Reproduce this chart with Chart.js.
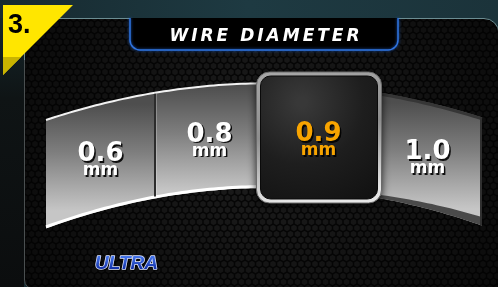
<!DOCTYPE html>
<html>
<head>
<meta charset="utf-8">
<script src="https://cdn.jsdelivr.net/npm/chart.js@4.4.1/dist/chart.umd.min.js"></script>
<style>
  html, body { margin: 0; padding: 0; background: #000; }
  canvas { display: block; }
</style>
</head>
<body>
<canvas id="wireChart" width="498" height="287"></canvas>
<script>
// Wire diameter dial data
const wireSizes = ['0.6', '0.8', '0.9', '1.0'];
const slotValues = [1, 1, 1, 1];   // every size takes one slot of the dial
const sizeUnit = 'mm';
const selectedSize = '0.9';
const stepLabel = '3.';
const titleText = 'WIRE DIAMETER';
const brandText = 'ULTRA';

// curved band geometry (drum seen in perspective)
const dialCenterX = 268;
function topEdge(x) { const d = x - dialCenterX; return 83.3 + 0.000744 * d * d; }
function bottomEdge(x) { const d = x - dialCenterX; return 188 + 0.00082 * d * d; }

function tracePath(ctx, fn, x0, x1) {
    const steps = 24;
    for (let s = 0; s <= steps; s++) {
        const x = x0 + (x1 - x0) * s / steps;
        if (s === 0) ctx.moveTo(x, fn(x)); else ctx.lineTo(x, fn(x));
    }
}

function segmentPath(ctx, x0, x1) {
    ctx.beginPath();
    tracePath(ctx, topEdge, x0, x1);
    const steps = 24;
    for (let s = steps; s >= 0; s--) {
        const x = x0 + (x1 - x0) * s / steps;
        ctx.lineTo(x, bottomEdge(x));
    }
    ctx.closePath();
}

// background, panel, badges and title
const panelPlugin = {
    id: 'panel',
    beforeDraw(chart) {
        const ctx = chart.ctx;
        const W = chart.width, H = chart.height;
        ctx.save();

        // outer backdrop
        let g = ctx.createLinearGradient(0, 0, W, 0);
        g.addColorStop(0, '#172a30');
        g.addColorStop(0.5, '#1e3a42');
        g.addColorStop(1, '#1b333a');
        ctx.fillStyle = g;
        ctx.fillRect(0, 0, W, H);
        g = ctx.createLinearGradient(0, 18, 0, H);
        g.addColorStop(0, '#15262b');
        g.addColorStop(0.3, '#0f1415');
        g.addColorStop(1, '#0b0d0e');
        ctx.fillStyle = g;
        ctx.fillRect(0, 18, 24, H - 18);

        // main panel
        ctx.beginPath();
        ctx.moveTo(24.5, 279);
        ctx.lineTo(24.5, 18.5);
        ctx.lineTo(484, 18.5);
        ctx.arcTo(499, 18.5, 499, 34, 15);
        ctx.lineTo(499, 289);
        ctx.lineTo(33, 289);
        ctx.arcTo(24.5, 289, 24.5, 279, 9);
        ctx.closePath();
        ctx.fillStyle = '#060606';
        ctx.fill();

        ctx.save();
        ctx.clip();
        // honeycomb mesh
        ctx.fillStyle = '#1a1a1a';
        const r = 3.2;
        for (let row = 0; row * 6 < H + 10; row++) {
            for (let col = 0; col * 7 < W + 10; col++) {
                const cx = col * 7 + (row % 2 ? 3.5 : 0);
                const cy = row * 6;
                ctx.beginPath();
                for (let k = 0; k < 6; k++) {
                    const a = Math.PI / 6 + k * Math.PI / 3;
                    const px = cx + r * Math.cos(a), py = cy + r * Math.sin(a);
                    if (k === 0) ctx.moveTo(px, py); else ctx.lineTo(px, py);
                }
                ctx.closePath();
                ctx.fill();
            }
        }
        g = ctx.createRadialGradient(265, 150, 40, 265, 150, 300);
        g.addColorStop(0, 'rgba(0,0,0,0)');
        g.addColorStop(1, 'rgba(0,0,0,0.65)');
        ctx.fillStyle = g;
        ctx.fillRect(0, 0, W, H);
        ctx.restore();

        // panel border
        ctx.beginPath();
        ctx.moveTo(24.5, 279);
        ctx.lineTo(24.5, 18.5);
        ctx.lineTo(484, 18.5);
        ctx.arcTo(499, 18.5, 499, 34, 15);
        ctx.strokeStyle = '#6b8d92';
        ctx.lineWidth = 1;
        ctx.stroke();
        ctx.beginPath();
        ctx.moveTo(24.5, 60);
        ctx.lineTo(24.5, 279);
        ctx.arcTo(24.5, 289, 33, 289, 9);
        ctx.strokeStyle = '#4a4f50';
        ctx.stroke();

        // step badge
        ctx.beginPath();
        ctx.moveTo(3, 5);
        ctx.lineTo(73, 5);
        ctx.lineTo(3, 75);
        ctx.closePath();
        ctx.fillStyle = '#ffe600';
        ctx.fill();
        ctx.save();
        ctx.clip();
        ctx.fillStyle = '#c9b300';
        ctx.fillRect(0, 57, 30, 30);
        ctx.restore();
        ctx.fillStyle = '#000';
        ctx.font = 'bold 27px "Liberation Sans"';
        ctx.textAlign = 'left';
        ctx.textBaseline = 'alphabetic';
        ctx.fillText(stepLabel, 8, 33);

        // title tab
        ctx.beginPath();
        ctx.moveTo(130, 18);
        ctx.lineTo(130, 40);
        ctx.arcTo(130, 50, 140, 50, 10);
        ctx.lineTo(388, 50);
        ctx.arcTo(398, 50, 398, 40, 10);
        ctx.lineTo(398, 18);
        ctx.fillStyle = '#000';
        ctx.fill();
        ctx.shadowColor = 'rgba(40,120,255,0.8)';
        ctx.shadowBlur = 3;
        ctx.strokeStyle = '#2f74e0';
        ctx.lineWidth = 1.5;
        ctx.stroke();
        ctx.shadowBlur = 0;
        ctx.shadowColor = 'rgba(0,0,0,0)';
        ctx.fillStyle = '#ffffff';
        ctx.font = 'italic bold 17px "DejaVu Sans"';
        ctx.letterSpacing = '3px';
        ctx.textAlign = 'center';
        ctx.fillText(titleText, 266, 41);
        ctx.letterSpacing = '0px';

        // brand
        ctx.font = 'italic bold 19px "Liberation Sans"';
        ctx.textAlign = 'left';
        ctx.lineJoin = 'round';
        ctx.shadowColor = 'rgba(0,0,0,0.9)';
        ctx.shadowOffsetX = 1;
        ctx.shadowOffsetY = 1;
        ctx.lineWidth = 1.5;
        ctx.strokeStyle = '#dfe6ff';
        ctx.strokeText(brandText, 95, 269);
        ctx.shadowColor = 'rgba(0,0,0,0)';
        g = ctx.createLinearGradient(0, 255, 0, 269);
        g.addColorStop(0, '#4a7cf2');
        g.addColorStop(1, '#1230a8');
        ctx.fillStyle = g;
        ctx.fillText(brandText, 95, 269);

        ctx.restore();
    }
};

// curved selector band, highlighted slot and labels
const dialPlugin = {
    id: 'dial',
    afterDatasetsDraw(chart) {
        const ctx = chart.ctx;
        const bars = chart.getDatasetMeta(0).data;
        const sel = wireSizes.indexOf(selectedSize);
        ctx.save();

        bars.forEach((bar, i) => {
            if (i === sel) return;
            const x0 = bar.x - bar.width / 2, x1 = bar.x + bar.width / 2;
            const t = topEdge(bar.x), b = bottomEdge(bar.x);
            const g = ctx.createLinearGradient(0, t, 0, b);
            g.addColorStop(0, '#4e4e4e');
            g.addColorStop(0.45, '#7e7e7e');
            g.addColorStop(1, '#c6c6c6');
            segmentPath(ctx, x0, x1);
            ctx.fillStyle = g;
            ctx.fill();

            if (i < sel) {
                ctx.beginPath();
                tracePath(ctx, topEdge, x0, x1);
                ctx.strokeStyle = '#f2f2f2';
                ctx.lineWidth = 2;
                ctx.stroke();
                ctx.beginPath();
                tracePath(ctx, x => bottomEdge(x) - 1.5, x0, x1);
                ctx.strokeStyle = '#ffffff';
                ctx.lineWidth = 3;
                ctx.stroke();
            } else {
                ctx.beginPath();
                tracePath(ctx, x => topEdge(x) + 1.5, x0, x1);
                ctx.strokeStyle = '#363636';
                ctx.lineWidth = 3;
                ctx.stroke();
                // dark underside strip, thicker towards the end
                ctx.beginPath();
                tracePath(ctx, bottomEdge, x0, x1);
                for (let s = 24; s >= 0; s--) {
                    const x = x0 + (x1 - x0) * s / 24;
                    ctx.lineTo(x, bottomEdge(x) - 3 - (x - x0) * 0.05);
                }
                ctx.closePath();
                ctx.fillStyle = '#4a4a4a';
                ctx.fill();
                ctx.fillStyle = '#303030';
                ctx.fillRect(x1 - 2, topEdge(x1), 2, bottomEdge(x1) - topEdge(x1));
            }
        });

        // dividers between neighbouring slots
        bars.forEach((bar, i) => {
            if (i === 0) return;
            const x = bar.x - bar.width / 2;
            ctx.fillStyle = '#2c2c2c';
            ctx.fillRect(x - 1, topEdge(x) + 1, 2, bottomEdge(x) - topEdge(x) - 3);
            ctx.fillStyle = 'rgba(255,255,255,0.25)';
            ctx.fillRect(x + 1, topEdge(x) + 1, 1, bottomEdge(x) - topEdge(x) - 3);
        });

        // highlighted slot
        const sb = bars[sel];
        const bx = sb.x - 62, by = 72, bw = 125, bh = 131;
        ctx.shadowColor = 'rgba(0,0,0,0.85)';
        ctx.shadowBlur = 8;
        ctx.shadowOffsetY = 2;
        ctx.beginPath();
        ctx.roundRect(bx, by, bw, bh, 13);
        let g = ctx.createLinearGradient(bx, by, bx + 20, by + bh);
        g.addColorStop(0, '#a8a8a8');
        g.addColorStop(0.5, '#8e8e8e');
        g.addColorStop(1, '#e6e6e6');
        ctx.fillStyle = g;
        ctx.fill();
        ctx.shadowBlur = 0;
        ctx.shadowOffsetY = 0;
        ctx.shadowColor = 'rgba(0,0,0,0)';
        ctx.strokeStyle = '#6a6a6a';
        ctx.lineWidth = 1;
        ctx.stroke();
        ctx.beginPath();
        ctx.roundRect(bx + 4, by + 4, bw - 8, bh - 8, 10);
        g = ctx.createRadialGradient(bx + 45, by + 30, 5, bx + 45, by + 30, 120);
        g.addColorStop(0, '#383838');
        g.addColorStop(0.5, '#1e1e1e');
        g.addColorStop(1, '#111111');
        ctx.fillStyle = g;
        ctx.fill();
        ctx.strokeStyle = '#0a0a0a';
        ctx.stroke();

        // labels
        bars.forEach((bar, i) => {
            const c = i === sel ? by + bh / 2 : (topEdge(bar.x) + bottomEdge(bar.x)) / 2;
            ctx.shadowColor = 'rgba(0,0,0,0.9)';
            ctx.shadowOffsetX = 1.5;
            ctx.shadowOffsetY = 1.5;
            ctx.shadowBlur = 0.5;
            ctx.fillStyle = i === sel ? '#f8a400' : '#ffffff';
            ctx.textAlign = 'center';
            ctx.textBaseline = 'alphabetic';
            ctx.font = 'bold 26px "DejaVu Sans"';
            ctx.fillText(wireSizes[i], bar.x, c + 3.5);
            ctx.font = 'bold 17px "DejaVu Sans"';
            ctx.fillText(sizeUnit, bar.x, c + 17.5);
        });

        ctx.restore();
    }
};

new Chart(document.getElementById('wireChart'), {
    type: 'bar',
    data: {
        labels: wireSizes,
        datasets: [{
            data: slotValues,
            backgroundColor: 'rgba(0,0,0,0)',
            borderWidth: 0,
            barPercentage: 1,
            categoryPercentage: 1
        }]
    },
    options: {
        responsive: false,
        animation: false,
        devicePixelRatio: 1,
        layout: { padding: { left: 46, right: 16, top: 72, bottom: 84 } },
        scales: {
            x: { display: false },
            y: { display: false, min: 0, max: 1 }
        },
        plugins: {
            legend: { display: false },
            tooltip: { enabled: false }
        }
    },
    plugins: [panelPlugin, dialPlugin]
});
</script>
</body>
</html>
